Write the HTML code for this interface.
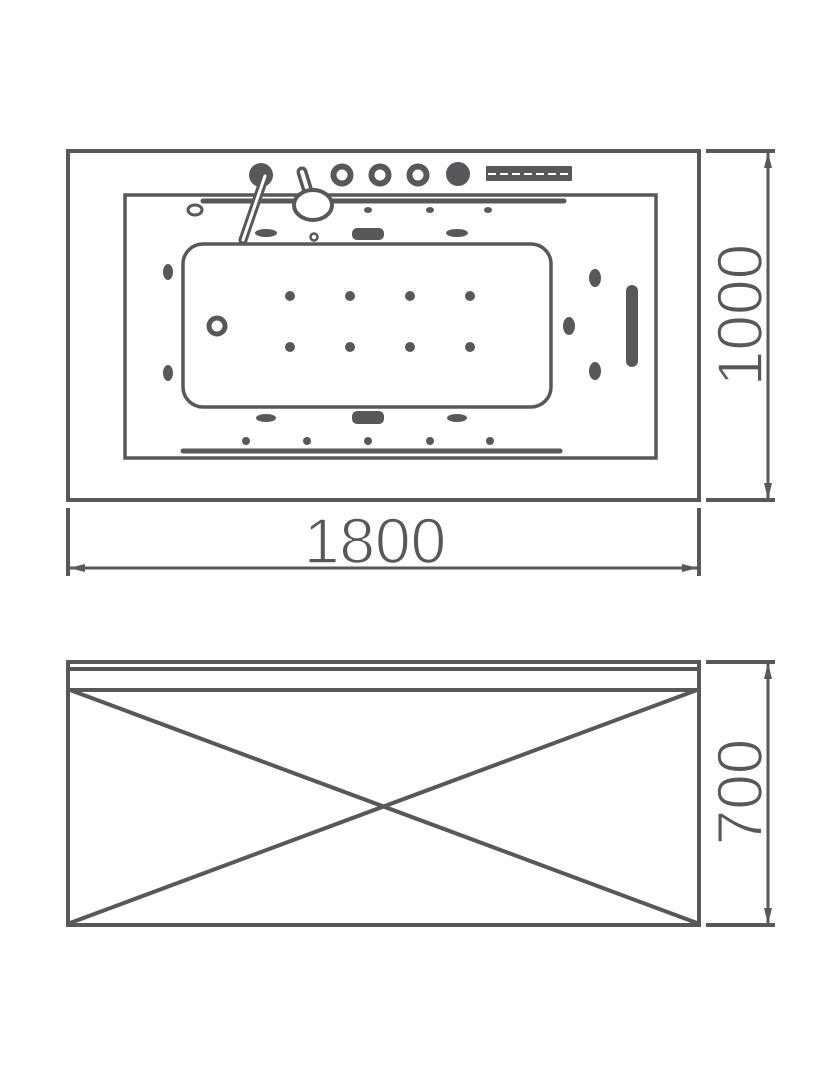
<!DOCTYPE html>
<html><head><meta charset="utf-8"><style>
html,body{margin:0;padding:0;background:#fff;}
svg{display:block;}
text{font-family:"Liberation Sans",sans-serif;fill:#58585a;stroke:#fff;stroke-width:1.6;}
</style></head><body>
<svg width="823" height="1077" viewBox="0 0 823 1077" xmlns="http://www.w3.org/2000/svg">
<g stroke="#58585a" fill="none" stroke-width="4">
<rect x="68" y="151" width="631" height="349"/>
<rect x="125" y="195" width="531" height="263" stroke-width="3.5"/>
<rect x="183" y="244" width="368" height="163" rx="20" stroke-width="3.5"/>
<line x1="203" y1="201" x2="564" y2="201" stroke-width="5" stroke-linecap="round"/>
<line x1="183" y1="451" x2="560" y2="451" stroke-width="5" stroke-linecap="round"/>
<line x1="706" y1="151" x2="775" y2="151"/>
<line x1="706" y1="500" x2="775" y2="500"/>
<line x1="768" y1="153" x2="768" y2="498" stroke-width="3"/>
<line x1="68" y1="508" x2="68" y2="576"/>
<line x1="699" y1="508" x2="699" y2="576"/>
<line x1="70" y1="568" x2="697" y2="568" stroke-width="3"/>
<rect x="68" y="662" width="631" height="263"/>
<line x1="68" y1="669" x2="699" y2="669"/>
<line x1="68" y1="690" x2="699" y2="690"/>
<line x1="70" y1="690" x2="697" y2="923"/>
<line x1="697" y1="690" x2="70" y2="923"/>
<line x1="706" y1="662" x2="775" y2="662"/>
<line x1="706" y1="925" x2="775" y2="925"/>
<line x1="768" y1="664" x2="768" y2="923" stroke-width="3"/>
</g>
<g fill="#58585a">
<polygon points="768,152 764,168 772,168"/>
<polygon points="768,499 764,483 772,483"/>
<polygon points="69,568 85,564 85,572"/>
<polygon points="698,568 682,564 682,572"/>
<polygon points="768,663 764,679 772,679"/>
<polygon points="768,924 764,908 772,908"/>
<circle cx="261" cy="175" r="12"/>
<circle cx="458" cy="174" r="12"/>
<rect x="486" y="166" width="86" height="15" rx="1"/>
<ellipse cx="368" cy="210" rx="4" ry="3"/>
<ellipse cx="430" cy="210" rx="4" ry="3"/>
<ellipse cx="488" cy="210" rx="4" ry="3"/>
<ellipse cx="266" cy="233" rx="11" ry="4"/>
<rect x="352" y="228" width="32" height="12" rx="5"/>
<ellipse cx="457" cy="233" rx="11" ry="4"/>
<ellipse cx="266" cy="418" rx="10" ry="4"/>
<rect x="352" y="411" width="32" height="13" rx="5"/>
<ellipse cx="457" cy="418" rx="10" ry="4"/>
<circle cx="246" cy="441" r="4"/><circle cx="307" cy="441" r="4"/><circle cx="368" cy="441" r="4"/><circle cx="430" cy="441" r="4"/><circle cx="490" cy="441" r="4"/>
<circle cx="290" cy="296" r="5"/><circle cx="350" cy="296" r="5"/><circle cx="410" cy="296" r="5"/><circle cx="470" cy="296" r="5"/>
<circle cx="290" cy="347" r="5"/><circle cx="350" cy="347" r="5"/><circle cx="410" cy="347" r="5"/><circle cx="470" cy="347" r="5"/>
<ellipse cx="168" cy="272" rx="5" ry="8"/>
<ellipse cx="168" cy="373" rx="5" ry="8"/>
<ellipse cx="595" cy="278" rx="6" ry="9"/>
<ellipse cx="569" cy="326" rx="6" ry="9"/>
<ellipse cx="595" cy="371" rx="6" ry="9"/>
<rect x="626" y="285" width="12" height="82" rx="6"/>
</g>
<g stroke="#58585a" fill="none">
<circle cx="342" cy="175" r="8.5" stroke-width="6"/>
<circle cx="380" cy="175" r="8.5" stroke-width="6"/>
<circle cx="418" cy="175" r="8.5" stroke-width="6"/>
<circle cx="217" cy="326" r="8" stroke-width="5"/>
<circle cx="314" cy="237" r="3.5" stroke-width="2.5"/>
<ellipse cx="195" cy="210" rx="7" ry="5" stroke-width="3"/>
<path d="M265,176 L243,240" stroke-width="9" stroke-linecap="round"/>
<path d="M265,176 L243,240" stroke="#fff" stroke-width="3" stroke-linecap="round"/>
<path d="M302,172 L310,198" stroke-width="11" stroke-linecap="round"/>
<path d="M302,172 L310,198" stroke="#fff" stroke-width="4" stroke-linecap="round"/>
<ellipse cx="313" cy="205" rx="19" ry="15" fill="#fff" stroke-width="4"/>
<line x1="488" y1="174" x2="570" y2="174" stroke="#fff" stroke-width="2" stroke-dasharray="8,4"/>
</g>
<text x="375" y="563" font-size="64" text-anchor="middle">1800</text>
<text transform="translate(762,315) rotate(-90)" font-size="64" text-anchor="middle">1000</text>
<text transform="translate(762,792) rotate(-90)" font-size="64" text-anchor="middle">700</text>
</svg>
</body></html>
